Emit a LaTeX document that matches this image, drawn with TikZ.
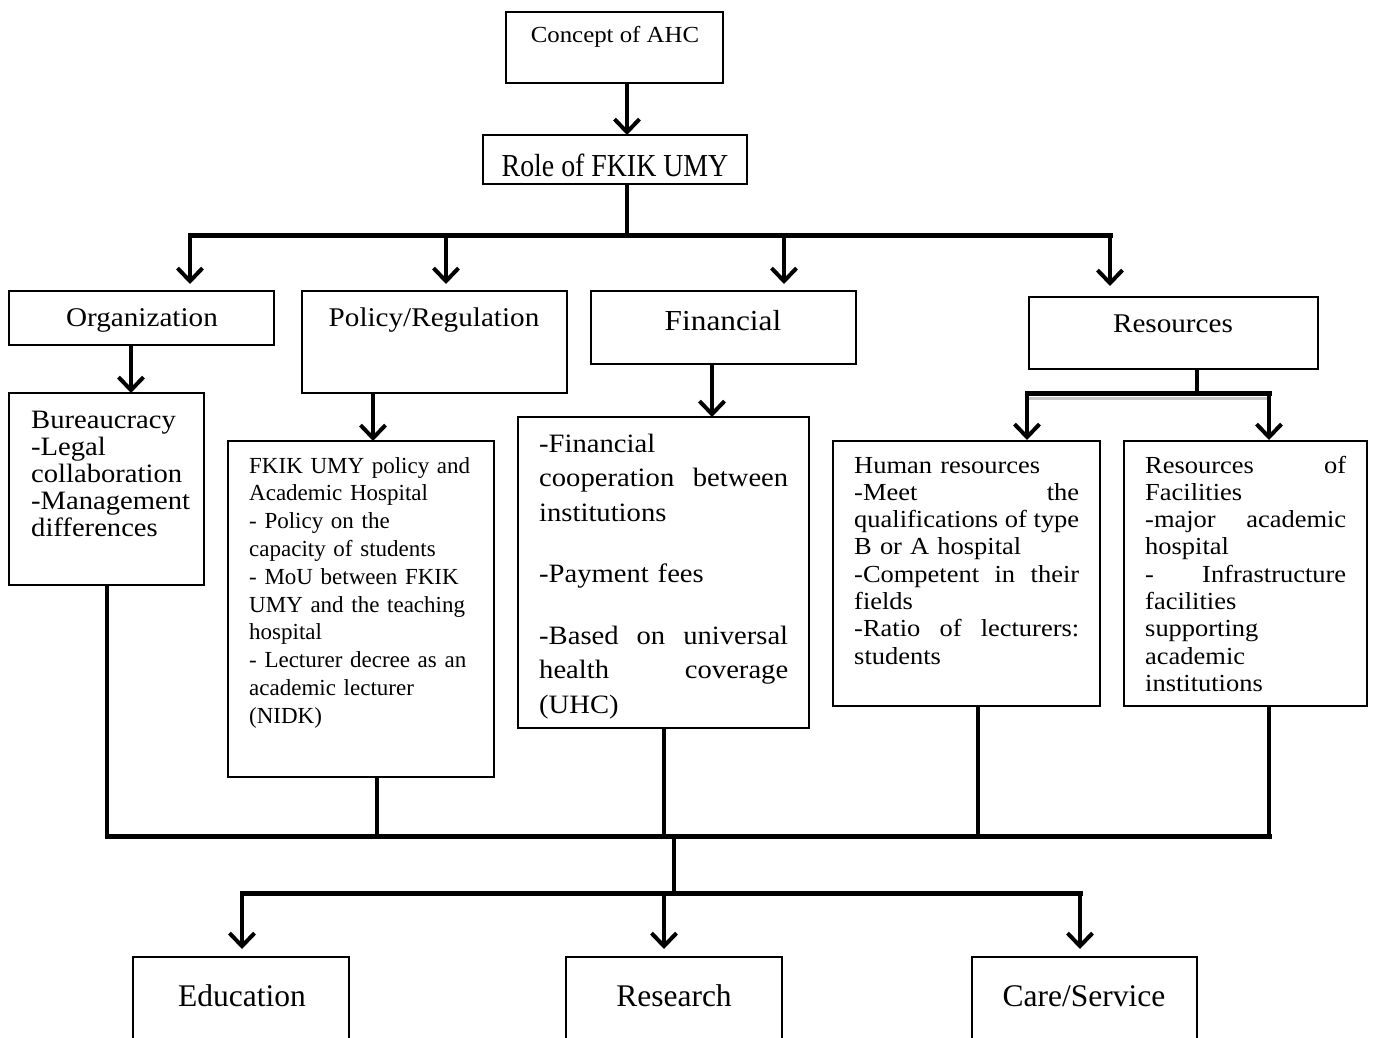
\documentclass[tikz,border=0pt]{standalone}
\usepackage{fontspec}
\setmainfont{Liberation Serif}
\newfontfamily\geo[FakeStretch=1.08]{Liberation Serif}
\newfontfamily\condf[FakeStretch=0.87]{Liberation Serif}
\usetikzlibrary{arrows.meta}
\newcommand\jl[2]{\makebox[#1][s]{#2}}
\tikzset{
  bx/.style={draw, line width=1.4pt, anchor=north west, inner sep=0pt, outer sep=0pt},
  conn/.style={line width=4pt},
  barline/.style={line width=5pt, line cap=rect},
  arr/.style={line width=4pt, -{Straight Barb[length=13pt,width=25pt]}},
  txt/.style={inner sep=0pt, anchor=base},
  para/.style={inner sep=0pt, anchor=base west, align=left},
}
\begin{document}
\begin{tikzpicture}[x=1pt,y=-1pt]
\useasboundingbox (0,0) rectangle (1374,1038);
\fill[white] (0,0) rectangle (1374,1038);

% ---------- boxes ----------
\node[bx, minimum width=217, minimum height=71]  (concept) at (506,12) {};
\node[bx, minimum width=264, minimum height=49]  (role)    at (483,135) {};
\node[bx, minimum width=265, minimum height=54]  (org)     at (9,291) {};
\node[bx, minimum width=265, minimum height=102] (pol)     at (302,291) {};
\node[bx, minimum width=265, minimum height=73]  (fin)     at (591,291) {};
\node[bx, minimum width=289, minimum height=72]  (res)     at (1029,297) {};
\node[bx, minimum width=195, minimum height=192] (bur)     at (9,393) {};
\node[bx, minimum width=266, minimum height=336] (fkik)    at (228,441) {};
\node[bx, minimum width=291, minimum height=311] (find)    at (518,417) {};
\node[bx, minimum width=267, minimum height=265] (hum)     at (833,441) {};
\node[bx, minimum width=243, minimum height=265] (fac)     at (1124,441) {};
\node[bx, minimum width=216, minimum height=110] (edu)     at (133,957) {};
\node[bx, minimum width=216, minimum height=110] (rsch)    at (566,957) {};
\node[bx, minimum width=225, minimum height=110] (care)    at (972,957) {};

% ---------- texts ----------
\node[txt, font=\geo\fontsize{23}{27}\selectfont] (tconcept) at (615,43) {Concept of AHC};
\node[txt, font=\condf\fontsize{32}{36}\selectfont] (trole) at (615,176) {Role of FKIK UMY};
\node[txt, font=\geo\fontsize{27}{32}\selectfont] (torg) at (142,326) {Organization};
\node[txt, font=\geo\fontsize{27}{32}\selectfont] (tpol) at (434,326) {Policy/Regulation};
\node[txt, font=\geo\fontsize{29}{34}\selectfont] (tfin) at (723,330) {Financial};
\node[txt, font=\geo\fontsize{27}{32}\selectfont] (tres) at (1173,332) {Resources};

\node[para, text width=172pt, font=\geo\fontsize{26.5}{27.2}\selectfont] (tbur) at (31,428)
  {Bureaucracy\\ -Legal\\ collaboration\\ -Management\\ differences};
\node[para, text width=243pt, font=\fontsize{23}{27.8}\selectfont] (tfkik) at (249,473)
  {FKIK UMY policy and\\ Academic Hospital\\ - Policy on the\\ capacity of students\\
   - MoU between FKIK\\ UMY and the teaching\\ hospital\\ - Lecturer decree as an\\
   academic lecturer\\ (NIDK)};
\node[para, text width=249pt, font=\geo\fontsize{26.5}{34.5}\selectfont] (tfind) at (539,452)
  {-Financial\\ \jl{249pt}{cooperation\hfill between}\\ institutions\\[27pt] -Payment fees\\[27pt]
   \jl{249pt}{-Based\hfill on\hfill universal}\\ \jl{249pt}{health\hfill coverage}\\ (UHC)};
\node[para, text width=225pt, font=\geo\fontsize{24.5}{27.3}\selectfont] (thum) at (854,473)
  {Human resources\\ \jl{225pt}{-Meet\hfill the}\\ \jl{225pt}{qualifications\hfill of\hfill type}\\ B or A hospital\\
   \jl{225pt}{-Competent\hfill in\hfill their}\\ fields\\ \jl{225pt}{-Ratio\hfill of\hfill lecturers:}\\ students};
\node[para, text width=201pt, font=\geo\fontsize{24.5}{27.3}\selectfont] (tfac) at (1145,473)
  {\jl{201pt}{Resources\hfill of}\\ Facilities\\ \jl{201pt}{-major\hfill academic}\\ hospital\\ \jl{201pt}{-\hfill Infrastructure}\\
   facilities\\ supporting\\ academic\\ institutions};

\node[txt, font=\fontsize{31.5}{36}\selectfont] (tedu)  at (242,1006) {Education};
\node[txt, font=\fontsize{31.5}{36}\selectfont] (trsch) at (674,1006) {Research};
\node[txt, font=\fontsize{31.5}{36}\selectfont] (tcare) at (1084,1006) {Care/Service};

% ---------- connector coordinates ----------
\coordinate (xc)  at (627,0);
\coordinate (J1)  at (627,235);
\coordinate (B1L) at (190,235);
\coordinate (B1P) at (446,235);
\coordinate (B1F) at (784,235);
\coordinate (B1R) at (1110,235);
\coordinate (xo)  at (131,0);
\coordinate (xp)  at (373,0);
\coordinate (xf)  at (712,0);
\coordinate (xr)  at (1197,0);
\coordinate (R1L) at (1027,393);
\coordinate (R1R) at (1269,393);
\coordinate (xbu) at (107,0);
\coordinate (xfk) at (377,0);
\coordinate (xfd) at (664,0);
\coordinate (xhu) at (978,0);
\coordinate (xfa) at (1269,0);
\coordinate (B2L) at (107,836);
\coordinate (B2R) at (1269,836);
\coordinate (J2)  at (674,836);
\coordinate (J3)  at (674,893);
\coordinate (B3L) at (242,893);
\coordinate (B3M) at (664,893);
\coordinate (B3R) at (1080,893);

% ---------- connectors ----------
\draw[arr] (concept.south -| xc) -- (role.north -| xc);
\draw[conn] (role.south -| xc) -- (J1);
\draw[barline] (B1L) -- (B1R);
\draw[arr, shorten >=7pt] (B1L) -- (B1L |- org.north);
\draw[arr, shorten >=7pt] (B1P) -- (B1P |- pol.north);
\draw[arr, shorten >=7pt] (B1F) -- (B1F |- fin.north);
\draw[arr, shorten >=11pt] (B1R) -- (B1R |- res.north);

\draw[arr] (org.south -| xo) -- (bur.north -| xo);
\draw[arr] (pol.south -| xp) -- (fkik.north -| xp);
\draw[arr] (fin.south -| xf) -- (find.north -| xf);

\draw[conn] (res.south -| xr) -- (R1L -| xr);
\draw[gray!45, line width=3pt] ([yshift=-5pt]R1L) -- ([yshift=-5pt]R1R);
\draw[barline] (R1L) -- (R1R);
\draw[arr, shorten >=1pt] (R1L) -- (R1L |- hum.north);
\draw[arr, shorten >=1pt] (R1R) -- (R1R |- fac.north);

\draw[conn] (bur.south -| xbu) -- (B2L);
\draw[conn] (fkik.south -| xfk) -- (xfk |- B2L);
\draw[conn] (find.south -| xfd) -- (xfd |- B2L);
\draw[conn] (hum.south -| xhu) -- (xhu |- B2L);
\draw[conn] (fac.south -| xfa) -- (B2R);
\draw[barline] (B2L) -- (B2R);

\draw[conn] (J2) -- (J3);
\draw[barline] (B3L) -- (B3R);
\draw[arr, shorten >=8pt] (B3L) -- (B3L |- edu.north);
\draw[arr, shorten >=8pt] (B3M) -- (B3M |- rsch.north);
\draw[arr, shorten >=8pt] (B3R) -- (B3R |- care.north);
\end{tikzpicture}
\end{document}
